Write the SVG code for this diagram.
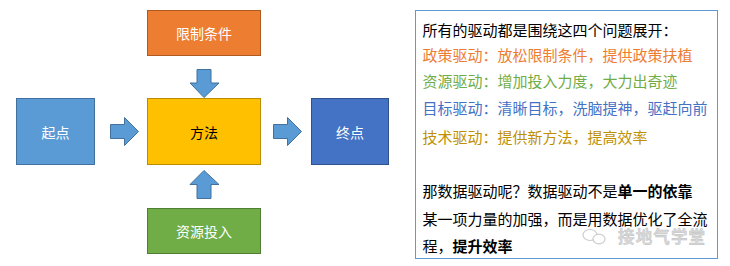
<svg xmlns="http://www.w3.org/2000/svg" width="730" height="266" viewBox="0 0 730 266">
<style>
.box{stroke-width:1}
.lbl{font-family:"Noto Sans CJK SC","Liberation Sans",sans-serif;font-size:14px;text-anchor:middle;dominant-baseline:central;fill:#fff}
.arr{fill:#5B9BD5;stroke:#41719C;stroke-width:1}
.t{font-family:"Noto Sans CJK SC","Liberation Sans",sans-serif;font-size:15px;fill:#000}
.b{font-weight:bold}
</style>
<rect width="730" height="266" fill="#fff"/>
<g id="connectors">
<polygon class="arr" points="197,69.5 211,69.5 211,83 219,83 204,97.5 190,83 197,83"/>
<polygon class="arr" points="197,198.5 211,198.5 211,184.5 219,184.5 204,170.5 190,184.5 197,184.5"/>
<polygon class="arr" points="110.5,124.5 124.5,124.5 124.5,117.5 138.5,131.5 124.5,145.5 124.5,138.5 110.5,138.5"/>
<polygon class="arr" points="273.5,124.5 287.5,124.5 287.5,117.5 301.5,131.5 287.5,145.5 287.5,138.5 273.5,138.5"/>
</g>
<g id="node-limit">
<rect class="box" x="147.5" y="10.5" width="113" height="45" fill="#ED7D31" stroke="#AE5A21"/>
<text class="lbl" x="204" y="33">限制条件</text>
</g>
<g id="node-start">
<rect class="box" x="16.5" y="98.5" width="78" height="66" fill="#5B9BD5" stroke="#41719C"/>
<text class="lbl" x="55.5" y="131.5">起点</text>
</g>
<g id="node-method">
<rect class="box" x="147.5" y="98.5" width="113" height="66" fill="#FFC000" stroke="#BC8C00"/>
<text class="lbl" x="204" y="131.5" style="fill:#000">方法</text>
</g>
<g id="node-end">
<rect class="box" x="311.5" y="98.5" width="77" height="66" fill="#4472C4" stroke="#2F528F"/>
<text class="lbl" x="350" y="131.5">终点</text>
</g>
<g id="node-resource">
<rect class="box" x="147.5" y="208.5" width="113" height="45" fill="#70AD47" stroke="#507E32"/>
<text class="lbl" x="204" y="231">资源投入</text>
</g>
<g id="panel">
<rect x="415.5" y="10.5" width="302" height="248" fill="#fff" stroke="#5B9BD5" stroke-width="1"/>
<text class="t" x="422.5" y="35.5">所有的驱动都是围绕这四个问题展开：</text>
<text class="t" x="422.5" y="60.5" style="fill:#ED7D31">政策驱动：放松限制条件，提供政策扶植</text>
<text class="t" x="422.5" y="87" style="fill:#70AD47">资源驱动：增加投入力度，大力出奇迹</text>
<text class="t" x="422.5" y="113.7" style="fill:#4472C4">目标驱动：清晰目标，洗脑提神，驱赶向前</text>
<text class="t" x="422.5" y="142.7" style="fill:#BF9000">技术驱动：提供新方法，提高效率</text>
<text class="t" x="422.5" y="197">那数据驱动呢？数据驱动不是<tspan class="b">单一的依靠</tspan></text>
<text class="t" x="422.5" y="224.7">某一项力量的加强，而是用数据优化了全流</text>
<text class="t" x="422.5" y="252">程，<tspan class="b">提升效率</tspan></text>
</g>
<g id="watermark" opacity="0.75">
<ellipse cx="590" cy="235" rx="7" ry="5.5" fill="none" stroke="#bbb" stroke-width="1.2"/>
<ellipse cx="599" cy="239" rx="6" ry="4.8" fill="#fff" stroke="#bbb" stroke-width="1.2"/>
<text x="618" y="243" font-family="Noto Sans CJK SC,sans-serif" font-size="16.5" font-weight="bold" fill="#ccc" stroke="#aaa" stroke-width="0.4" textLength="87">接地气学堂</text>
</g>
</svg>
